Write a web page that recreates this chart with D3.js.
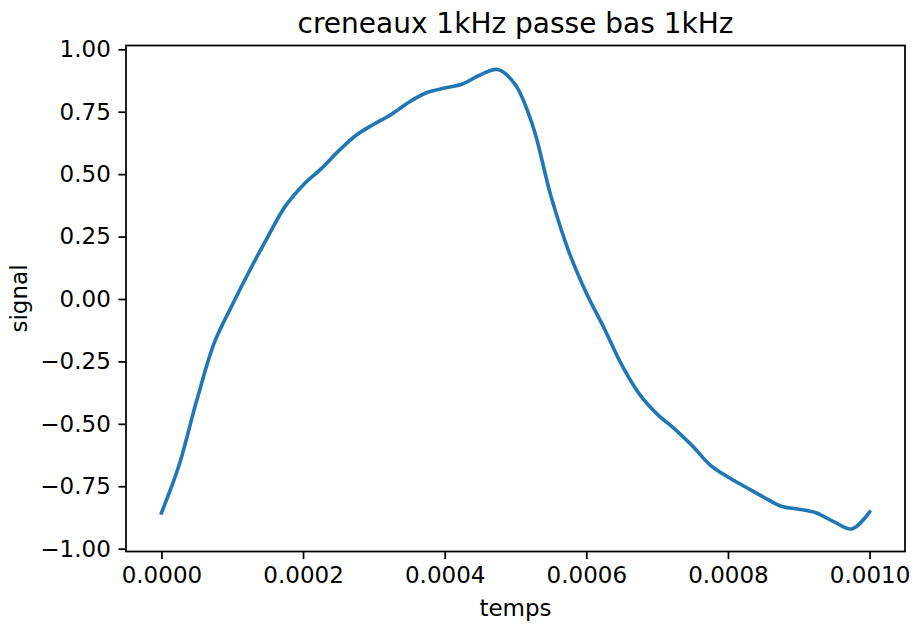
<!DOCTYPE html>
<html>
<head>
<meta charset="utf-8">
<script src="https://cdn.jsdelivr.net/npm/d3@7"></script>
<style>
  body { margin: 0; background: #fff; }
  svg { display: block; }
  text { font-family: "DejaVu Sans", sans-serif; fill: #000; }
</style>
</head>
<body>
<svg id="chart" width="912" height="625"></svg>
<script>
// ---- data ----
const temps = [
  0, 0.000025, 0.00005, 0.000075, 0.0001, 0.000125, 0.00015, 0.000175,
  0.0002, 0.000225, 0.00025, 0.000275, 0.0003, 0.000325, 0.00035, 0.000375,
  0.0004, 0.000425, 0.00045, 0.000475, 0.0005, 0.000525, 0.00055, 0.000575,
  0.0006, 0.000625, 0.00065, 0.000675, 0.0007, 0.000725, 0.00075, 0.000775,
  0.0008, 0.000825, 0.00085, 0.000875, 0.0009, 0.000925, 0.00095, 0.000975, 0.001
];
const signal = [
  -0.857, -0.665, -0.405, -0.173, -0.024, 0.116, 0.248, 0.372,
  0.456, 0.520, 0.592, 0.656, 0.700, 0.740, 0.789, 0.827,
  0.845, 0.861, 0.897, 0.919, 0.857, 0.688, 0.412, 0.192,
  0.024, -0.116, -0.264, -0.381, -0.461, -0.521, -0.589, -0.665,
  -0.713, -0.753, -0.793, -0.830, -0.842, -0.857, -0.893, -0.921, -0.853
];
const xTicks = [0, 0.0002, 0.0004, 0.0006, 0.0008, 0.001];
const yTicks = [-1.00, -0.75, -0.50, -0.25, 0.00, 0.25, 0.50, 0.75, 1.00];
const title = "creneaux 1kHz passe bas 1kHz";
const xLabel = "temps";
const yLabel = "signal";

// ---- layout ----
const L = 126, R = 905, T = 45.5, B = 551.5;
const svg = d3.select("#chart");

const x = d3.scaleLinear().domain([-0.00005, 0.00105]).range([L, R]);
const y = d3.scaleLinear().domain([-1.0113, 1.0152]).range([B, T]);

const pts = temps.map((t, i) => [t, signal[i]]);

const line = d3.line()
  .x(d => x(d[0]))
  .y(d => y(d[1]))
  .curve(d3.curveCatmullRom.alpha(0.5));

svg.append("path")
  .datum(pts)
  .attr("fill", "none")
  .attr("stroke", "#1f77b4")
  .attr("stroke-width", 3.6)
  .attr("stroke-linecap", "square")
  .attr("stroke-linejoin", "round")
  .attr("d", line);

// axes
const fs = 23;
const xAxis = d3.axisBottom(x).tickValues(xTicks).tickFormat(d3.format(".4f"))
  .tickSizeOuter(0).tickSize(7.6).tickPadding(7.6);
const yAxis = d3.axisLeft(y).tickValues(yTicks).tickFormat(d3.format(".2f"))
  .tickSizeOuter(0).tickSize(7.6).tickPadding(7.6);

const gx = svg.append("g").attr("transform", `translate(0,${B})`).call(xAxis);
const gy = svg.append("g").attr("transform", `translate(${L},0)`).call(yAxis);
[gx, gy].forEach(g => {
  g.select(".domain").remove();
  g.selectAll(".tick line").attr("stroke", "#000").attr("stroke-width", 1.75);
  g.selectAll(".tick text").style("font-family", "DejaVu Sans").style("font-size", fs + "px").attr("fill", "#000");
});

// frame
svg.append("rect")
  .attr("x", L).attr("y", T).attr("width", R - L).attr("height", B - T)
  .attr("fill", "none").attr("stroke", "#000").attr("stroke-width", 1.75);

// title & labels
svg.append("text").attr("x", (L + R) / 2).attr("y", 33)
  .attr("text-anchor", "middle").style("font-size", "28px").text(title);
svg.append("text").attr("x", (L + R) / 2).attr("y", 616)
  .attr("text-anchor", "middle").style("font-size", fs + "px").text(xLabel);
svg.append("text").attr("transform", `translate(27,${(T + B) / 2}) rotate(-90)`)
  .attr("text-anchor", "middle").style("font-size", fs + "px").text(yLabel);
</script>
</body>
</html>
